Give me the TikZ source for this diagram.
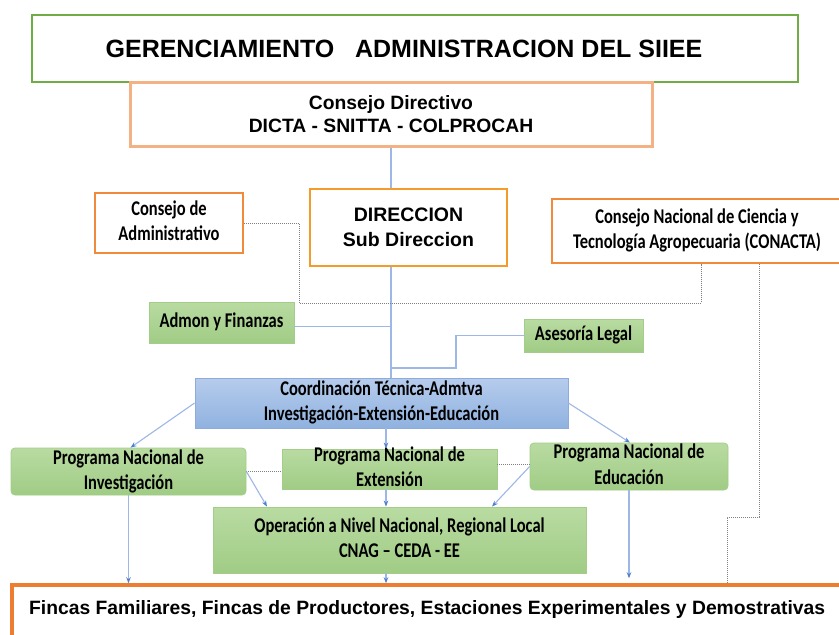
\documentclass[tikz,border=0pt]{standalone}
\usepackage{fontspec}
\usepackage{graphicx}
\setmainfont{Liberation Sans}
\newfontfamily\carl{Carlito}
\usetikzlibrary{arrows.meta}
\definecolor{tgreen}{HTML}{70AD47}
\definecolor{salmon}{HTML}{F4B183}
\definecolor{dorange}{HTML}{F39C2C}
\definecolor{corange}{HTML}{F08A3C}
\definecolor{forange}{HTML}{ED7D31}
\definecolor{gtop}{HTML}{B9DBA2}
\definecolor{gbot}{HTML}{A0CC85}
\definecolor{gborder}{HTML}{A3CD88}
\definecolor{btop}{HTML}{B6CCEC}
\definecolor{bbot}{HTML}{90B2E0}
\definecolor{bborder}{HTML}{8FAADC}
\definecolor{lblue}{HTML}{9DB8E6}
\definecolor{ablue}{HTML}{4F7FD0}
\definecolor{dgray}{HTML}{808080}
\newcommand\ctext[1]{\scalebox{1}[1.27]{\carl\bfseries\fontsize{16.5}{19.7}\selectfont\begin{tabular}{@{}c@{}}#1\end{tabular}}}
\begin{document}
\begin{tikzpicture}[x=1pt,y=-1pt,
  obox/.style={draw, rectangle, inner sep=0pt, align=center, fill=white},
  ct/.style={label={[inner sep=0pt]center:{\ctext{#1}}}},
  gbox/.style={draw=gborder, line width=0.8pt, top color=gtop, bottom color=gbot, inner sep=0pt},
  bbox/.style={draw=bborder, line width=0.8pt, top color=btop, bottom color=bbot, inner sep=0pt},
  conn/.style={draw=lblue, line width=1.1pt},
  arr/.style={conn, -{Stealth[length=6pt,width=4.5pt,color=ablue]}},
  dots/.style={draw=dgray, line width=1pt, dash pattern=on 1pt off 1pt}]
\clip (0,0) rectangle (839,635);
\fill[white] (0,0) rectangle (839,635);

% nodes
\node[obox, draw=tgreen, line width=2pt, minimum width=766pt, minimum height=67pt,
  font=\bfseries\fontsize{25}{30}\selectfont] (title) at (415,48.5)
  {GERENCIAMIENTO\hspace{0.83em}ADMINISTRACION DEL SIIEE\hspace{22pt}};
\node[obox, draw=salmon, line width=3pt, minimum width=522pt, minimum height=64pt,
  font=\bfseries\fontsize{19.3}{23}\selectfont] (cd) at (391,114)
  {Consejo Directivo\\DICTA - SNITTA - COLPROCAH};
\node[obox, draw=dorange, line width=2.5pt, minimum width=197pt, minimum height=77pt,
  font=\bfseries\fontsize{19.5}{25}\selectfont] (dir) at (408.5,227.5)
  {DIRECCION\\Sub Direccion};
\node[obox, draw=corange, line width=1.5pt, minimum width=148pt, minimum height=60pt,
  ct={Consejo de\\Administrativo}] (cadm) at (169,223) {};
\node[obox, draw=corange, line width=2pt, minimum width=290pt, minimum height=64pt,
  ct={Consejo Nacional de Ciencia y\\Tecnología Agropecuaria (CONACTA)}] (conacta) at (697,231) {};
\node[gbox, minimum width=145pt, minimum height=41pt, ct={Admon y Finanzas}] (admon) at (221.5,322.5) {};
\node[gbox, minimum width=119pt, minimum height=33pt, ct={Asesoría Legal}] (legal) at (583.5,335.5) {};
\node[bbox, minimum width=373pt, minimum height=50pt,
  ct={Coordinación Técnica-Admtva\\Investigación-Extensión-Educación}] (coord) at (381.5,403) {};
\node[gbox, rounded corners=4pt, minimum width=235pt, minimum height=47pt,
  ct={Programa Nacional de\\Investigación}] (pni) at (128.5,471.5) {};
\node[gbox, minimum width=215pt, minimum height=40pt,
  ct={Programa Nacional de\\Extensión}] (pne) at (389.5,469) {};
\node[gbox, rounded corners=4pt, minimum width=198pt, minimum height=47pt,
  ct={Programa Nacional de\\Educación}] (pned) at (629,466.5) {};
\node[gbox, minimum width=373pt, minimum height=66pt,
  ct={Operación a Nivel Nacional, Regional Local\\CNAG – CEDA - EE}] (op) at (399.5,540) {};
\node[obox, draw=forange, line width=3.5pt, minimum width=858pt, minimum height=75pt] (fincas) at (441,622.5) {};
\node[anchor=west, inner sep=0pt, font=\bfseries\fontsize{19.3}{24}\selectfont] (fincasT) at (29,610)
  {Fincas Familiares, Fincas de Productores, Estaciones Experimentales y Demostrativas};

% coordinates
\coordinate (vx) at (391,0);
\coordinate (vc) at (386,0);
\coordinate (lk) at (456,368);
\coordinate (d1) at (299,303);
\coordinate (d2) at (701,303);
\coordinate (e1) at (759,517);
\coordinate (e2) at (727,517);
\coordinate (o1) at (267,0);
\coordinate (o2) at (492,0);

% solid connectors
\draw[conn] (cd.south -| vx) -- (dir.north -| vx);
\draw[conn] (dir.south -| vx) -- (coord.north -| vx);
\draw[conn] ([yshift=-4pt]admon.east) -- ([yshift=-4pt]admon.east -| vx);
\draw[conn] (legal.west) -| (lk) -- (lk -| vx);

% dotted connectors
\draw[dots] (cadm.east) -| (d1) -- (d2) -- (d2 |- conacta.south);
\draw[dots] (e1 |- conacta.south) -- (e1) -- (e2) -- (e2 |- fincas.north);
\draw[dots] (pni.east) -- (pne.west |- pni.east);
\draw[dots] ([yshift=5pt]pne.east) -- ([yshift=5pt]pne.east -| pned.west);

% arrows
\draw[arr] (coord.west) -- ([xshift=2pt]pni.north);
\draw[arr] (coord.south -| vc) -- (pne.north -| vc);
\draw[arr] (coord.east) -- ([xshift=1pt]pned.north);
\draw[arr] (pni.east) -- (op.north -| o1);
\draw[arr] (pne.south -| vc) -- (op.north -| vc);
\draw[arr] (pned.west) -- (op.north -| o2);
\draw[arr] (pni.south) -- (pni.south |- fincas.north);
\draw[arr] (op.south -| vc) -- (fincas.north -| vc);
\draw[arr] (pned.south) -- ([yshift=5pt]pned.south |- fincas.north);
\end{tikzpicture}
\end{document}
